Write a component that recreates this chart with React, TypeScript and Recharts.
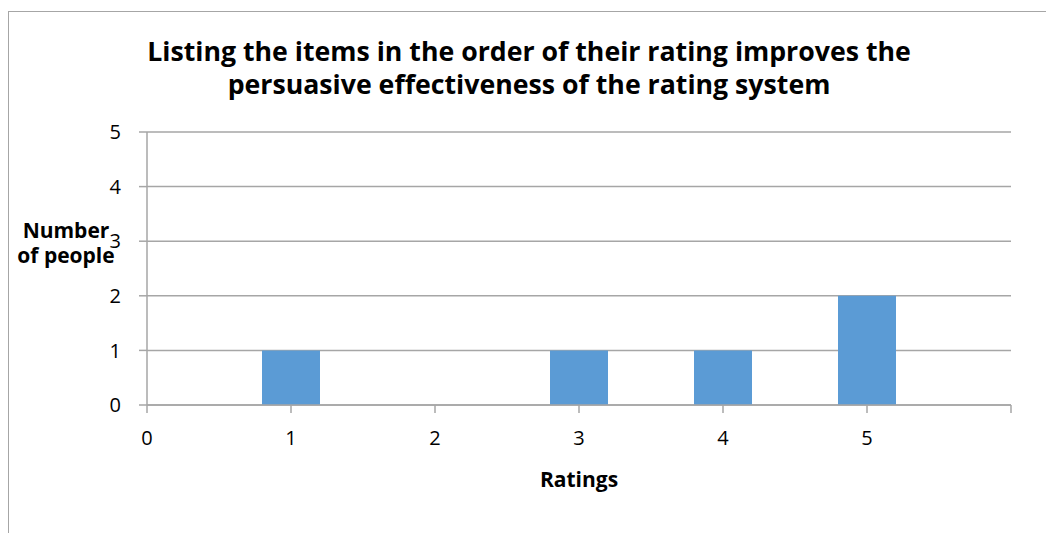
import React from "react";
import { BarChart, Bar, XAxis, YAxis, CartesianGrid } from "recharts";

const ratings = [1, 2, 3, 4, 5];
const counts = [1, 0, 1, 1, 2];
const xTicks = [0, 1, 2, 3, 4, 5, 6];
const yTicks = [0, 1, 2, 3, 4, 5];
const titleLines = [
  "Listing the items in the order of their rating improves the",
  "persuasive effectiveness of the rating system",
];
const xTitle = "Ratings";
const yTitleLines = ["Number", "of people"];

const data = ratings.map((r, i) => ({ rating: r, count: counts[i] }));

const FONT = "'Open Sans', Lato, sans-serif";
const GRID = "#a6a6a6";

export default function App() {
  const W = 1045;
  const H = 520;
  return (
    <div
      style={{
        position: "relative",
        top: 3,
        width: 1046,
        height: 525,
        borderTop: `1px solid ${GRID}`,
        borderLeft: `1px solid ${GRID}`,
        boxSizing: "border-box",
        background: "#fff",
      }}
    >
      <div style={{ position: "absolute", left: 0, top: 0 }}>
        <BarChart
          width={W}
          height={H}
          data={data}
          margin={{ top: 120, right: 43, bottom: 97, left: 0 }}
        >
          <CartesianGrid vertical={false} stroke={GRID} strokeWidth={1.5} />
          <XAxis
            dataKey="rating"
            type="number"
            domain={[0, 6]}
            ticks={xTicks}
            interval={0}
            height={30}
            tickFormatter={(v: number) => (v === 6 ? "" : String(v))}
            stroke={GRID}
            strokeWidth={1.5}
            tickSize={8}
            tickMargin={18}
            tick={{ fill: "#000", fontSize: 20, fontFamily: FONT }}
          />
          <YAxis
            type="number"
            domain={[0, 5]}
            ticks={yTicks}
            interval={0}
            width={138}
            stroke={GRID}
            strokeWidth={1.5}
            tickSize={8}
            tickMargin={18}
            tick={{ fill: "#000", fontSize: 20, fontFamily: FONT }}
          />
          <Bar dataKey="count" fill="#5b9bd5" barSize={58} isAnimationActive={false} />
        </BarChart>
      </div>
      <svg
        width={W}
        height={H}
        style={{ position: "absolute", left: 0, top: 0, pointerEvents: "none" }}
      >
        <text
          textAnchor="middle"
          fontFamily={FONT}
          fontWeight="bold"
          fontSize={26.7}
          fill="#000"
        >
          <tspan x={520} y={49}>{titleLines[0]}</tspan>
          <tspan x={520} y={82}>{titleLines[1]}</tspan>
        </text>
        <text
          x={570}
          y={475}
          textAnchor="middle"
          fontFamily={FONT}
          fontWeight="bold"
          fontSize={21}
          fill="#000"
        >
          {xTitle}
        </text>
        <text
          textAnchor="middle"
          fontFamily={FONT}
          fontWeight="bold"
          fontSize={21}
          fill="#000"
        >
          <tspan x={57} y={226}>{yTitleLines[0]}</tspan>
          <tspan x={57} y={251}>{yTitleLines[1]}</tspan>
        </text>
      </svg>
    </div>
  );
}
